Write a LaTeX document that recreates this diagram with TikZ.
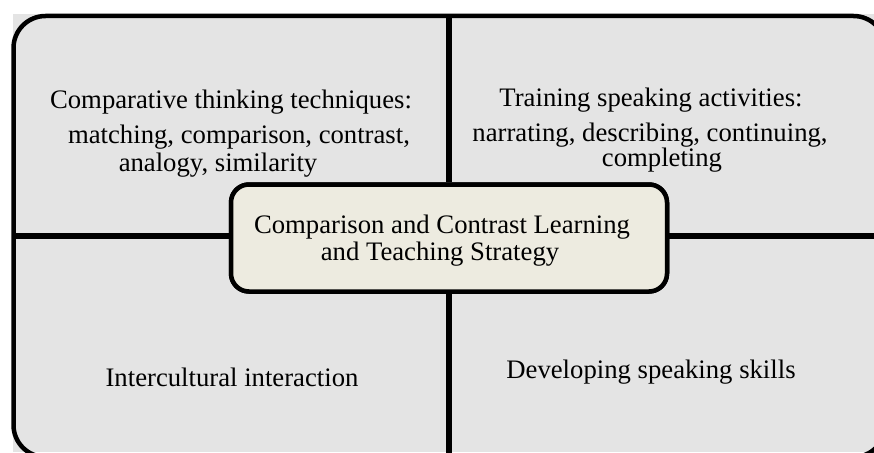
\documentclass[tikz,border=0pt]{standalone}
\usepackage{fontspec}
\setmainfont{Liberation Serif}
\definecolor{panelgray}{RGB}{228,228,228}
\definecolor{corebeige}{RGB}{237,235,224}
\begin{document}
\begin{tikzpicture}[x=1pt,y=-1pt,
  lbl/.style={font=\fontsize{26.7}{28}\selectfont, inner sep=0pt, anchor=base},
  divider/.style={line width=5.5pt, black},
  frame/.style={line width=4.5pt, rounded corners=32pt},
  corebox/.style={draw, line width=4.5pt, fill=corebeige, rounded corners=18pt,
    minimum width=436pt, minimum height=107pt, inner sep=0pt}]
\useasboundingbox (0,0) rectangle (874,452);
\clip (0,0) rectangle (874,452);
\fill[panelgray] (13,14) rectangle (874,452);
\draw[frame] (13.5,16) rectangle (885.5,457);
\coordinate (ntop) at (449,16);
\coordinate (nbot) at (449,457);
\coordinate (wleft) at (13.5,236);
\coordinate (wright) at (885.5,236);
\node[corebox] (core) at (449,238) {};
\draw[divider] (ntop) -- (core.north);
\draw[divider] (core.south) -- (nbot);
\draw[divider] (wleft) -- (core.west |- wleft);
\draw[divider] (core.east |- wright) -- (wright);
\node[corebox] (core2) at (core.center) {};
\node[lbl] (ca) at (442,233) {Comparison and Contrast Learning};
\node[lbl] (cb) at (440,260) {and Teaching Strategy};
\node[lbl] (tla) at (231,108) {Comparative thinking techniques:};
\node[lbl] (tlb) at (239,143) {matching, comparison, contrast,};
\node[lbl] (tlc) at (218,171) {analogy, similarity};
\node[lbl] (tra) at (651,106) {Training speaking activities:};
\node[lbl] (trb) at (650,141) {narrating, describing, continuing,};
\node[lbl] (trc) at (662,166) {completing};
\node[lbl] (bl) at (232,386) {Intercultural interaction};
\node[lbl] (br) at (651,378) {Developing speaking skills};
\end{tikzpicture}
\end{document}
